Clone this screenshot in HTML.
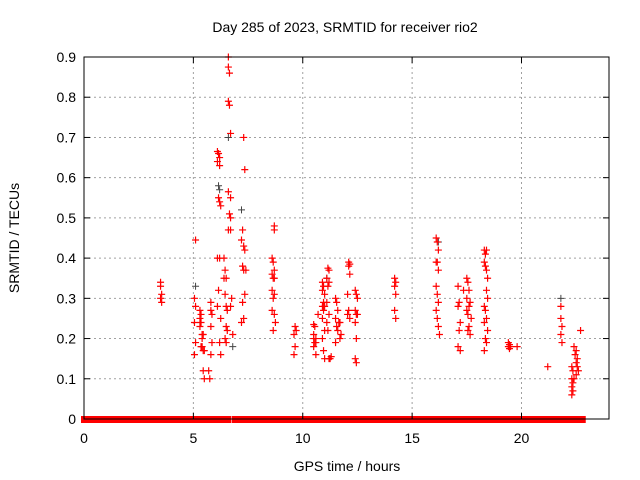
<!DOCTYPE html>
<html><head><meta charset="utf-8"><style>
body{margin:0;background:#fff}
svg{display:block;font-family:"Liberation Sans",sans-serif}
</style></head><body>
<svg id="chart" width="640" height="480">
<text x="345" y="32" text-anchor="middle" font-size="14">Day 285 of 2023, SRMTID for receiver rio2</text>
<text x="347" y="471" text-anchor="middle" font-size="14">GPS time / hours</text>
<text transform="translate(19,238) rotate(-90)" text-anchor="middle" font-size="14">SRMTID / TECUs</text>
<g id="grid"></g><g id="zeros"></g><g id="pts"></g><g id="axes"></g>
</svg>
<script>
const xTicks=[0,5,10,15,20];
const yTicks=[0,0.1,0.2,0.3,0.4,0.5,0.6,0.7,0.8,0.9];
const yTickLabels=["0","0.1","0.2","0.3","0.4","0.5","0.6","0.7","0.8","0.9"];
const zeroIntervals=[[0,4.95],[5.05,5.4],[5.5,6.2],[6.25,6.6],[6.9,8.4],[8.5,10.3],[10.35,11.4],[11.5,12.8],[12.85,14.3],[14.4,16.1],[16.2,17.4],[17.5,18.2],[18.3,19.0],[19.1,20.2],[20.3,21.8],[21.9,22.3],[22.5,22.8]];
const blackPoints=[[5.1,0.33],[6.15,0.58],[6.2,0.57],[6.6,0.70],[7.2,0.52],[6.8,0.18],[21.8,0.30],[16.2,0.44],[11.1,0.35]];
const redPoints=[
[3.5,0.34],[3.5,0.33],[3.55,0.31],[3.5,0.30],[3.55,0.29],
[5.1,0.445],[5.05,0.30],[5.1,0.28],[5.05,0.24],[5.1,0.19],[5.05,0.16],
[5.3,0.27],[5.35,0.26],[5.3,0.25],[5.35,0.24],[5.3,0.23],[5.4,0.21],[5.45,0.21],[5.4,0.20],[5.35,0.18],[5.4,0.18],[5.45,0.17],[5.5,0.17],[5.45,0.12],[5.5,0.10],
[5.8,0.29],[5.8,0.27],[5.85,0.26],[5.8,0.23],[5.85,0.19],[5.8,0.16],[5.7,0.12],[5.75,0.10],
[6.1,0.665],[6.15,0.66],[6.2,0.65],[6.1,0.64],[6.2,0.63],[6.15,0.55],[6.2,0.54],[6.25,0.53],[6.1,0.40],[6.2,0.40],[6.15,0.32],[6.1,0.28],[6.25,0.25],[6.2,0.19],[6.25,0.16],
[6.4,0.40],[6.45,0.37],[6.4,0.35],[6.5,0.35],[6.45,0.31],[6.5,0.28],[6.55,0.27],[6.5,0.23],[6.55,0.22],[6.45,0.20],[6.5,0.19],
[6.6,0.90],[6.6,0.875],[6.65,0.86],[6.6,0.79],[6.65,0.78],[6.7,0.71],[6.6,0.565],[6.7,0.55],[6.65,0.51],[6.7,0.50],[6.6,0.47],[6.7,0.47],[6.75,0.30],[6.7,0.28],[6.8,0.21],
[7.3,0.70],[7.35,0.62],[7.25,0.47],[7.2,0.445],[7.3,0.43],[7.35,0.42],[7.25,0.38],[7.4,0.37],[7.3,0.37],[7.35,0.31],[7.25,0.29],[7.3,0.25],[7.2,0.24],
[8.7,0.48],[8.7,0.47],[8.6,0.40],[8.65,0.39],[8.7,0.37],[8.6,0.36],[8.65,0.35],[8.7,0.35],[8.6,0.32],[8.7,0.31],[8.65,0.30],[8.6,0.27],[8.7,0.26],[8.75,0.24],[8.65,0.22],
[9.65,0.23],[9.7,0.22],[9.6,0.21],[9.65,0.18],[9.6,0.16],
[10.5,0.235],[10.55,0.23],[10.5,0.21],[10.6,0.20],[10.5,0.20],[10.55,0.19],[10.6,0.19],[10.5,0.18],[10.6,0.16],[10.7,0.26],
[10.9,0.34],[10.95,0.33],[10.9,0.32],[11.0,0.31],[10.95,0.29],[11.0,0.28],[10.9,0.28],[10.95,0.27],[10.9,0.25],[11.0,0.22],[10.9,0.20],[10.95,0.17],[11.0,0.15],
[11.15,0.375],[11.2,0.37],[11.1,0.35],[11.2,0.34],[11.15,0.33],[11.1,0.29],[11.2,0.26],[11.1,0.24],[11.15,0.22],[11.2,0.15],[11.25,0.15],[11.3,0.155],
[11.5,0.30],[11.55,0.29],[11.6,0.27],[11.5,0.25],[11.65,0.24],[11.7,0.24],[11.55,0.23],[11.6,0.22],[11.75,0.21],[11.7,0.20],[11.5,0.19],
[12.1,0.39],[12.15,0.385],[12.1,0.38],[12.15,0.36],[12.05,0.31],[12.1,0.27],[12.15,0.25],[12.05,0.26],
[12.4,0.32],[12.45,0.31],[12.5,0.30],[12.4,0.27],[12.45,0.26],[12.5,0.26],[12.4,0.24],[12.45,0.20],[12.4,0.15],[12.45,0.14],
[14.2,0.35],[14.25,0.34],[14.2,0.33],[14.25,0.31],[14.2,0.27],[14.25,0.25],
[16.1,0.45],[16.15,0.44],[16.2,0.42],[16.1,0.39],[16.15,0.39],[16.2,0.37],[16.1,0.33],[16.15,0.31],[16.2,0.29],[16.1,0.27],[16.15,0.25],[16.2,0.23],[16.25,0.21],
[17.1,0.33],[17.15,0.29],[17.1,0.28],[17.2,0.24],[17.15,0.22],[17.1,0.18],[17.2,0.17],[17.35,0.32],
[17.5,0.35],[17.55,0.34],[17.6,0.32],[17.5,0.30],[17.65,0.29],[17.6,0.28],[17.5,0.27],[17.55,0.26],[17.7,0.25],[17.6,0.23],[17.55,0.22],[17.65,0.21],
[18.3,0.42],[18.4,0.42],[18.35,0.41],[18.3,0.39],[18.35,0.38],[18.4,0.37],[18.45,0.35],[18.4,0.32],[18.45,0.30],[18.3,0.28],[18.35,0.27],[18.4,0.25],[18.3,0.24],[18.45,0.22],[18.35,0.20],[18.4,0.19],[18.3,0.17],
[19.4,0.19],[19.45,0.185],[19.4,0.18],[19.5,0.18],[19.45,0.175],[19.8,0.18],
[21.2,0.13],
[21.8,0.28],[21.8,0.25],[21.85,0.23],[21.8,0.21],[21.85,0.19],
[22.3,0.13],[22.35,0.12],[22.3,0.10],[22.35,0.09],[22.3,0.08],[22.35,0.07],[22.3,0.06],[22.4,0.10],[22.4,0.18],[22.5,0.17],[22.45,0.16],[22.55,0.15],[22.5,0.14],[22.55,0.13],[22.6,0.12],[22.5,0.11],[22.7,0.22]
];
const X0=84,X1=609,Y0=419,Y1=57,XMAX=24,YMAX=0.9;
const sx=v=>X0+(X1-X0)*v/XMAX, sy=v=>Y0-(Y0-Y1)*v/YMAX;
const NS='http://www.w3.org/2000/svg';
function mk(tag,parent,attrs){const e=document.createElementNS(NS,tag);for(const k in attrs)e.setAttribute(k,attrs[k]);document.getElementById(parent).appendChild(e);return e;}
yTicks.forEach((t,i)=>{
 if(t>0&&t<YMAX){const g=mk('line','grid',{x1:X0,x2:X1,y1:sy(t),y2:sy(t),stroke:'#a0a0a0','stroke-dasharray':'2,3'});
 
 }
 const l=mk('text','axes',{x:X0-8,y:sy(t)+5,'text-anchor':'end','font-size':'14'});l.textContent=yTickLabels[i];
 
 
 mk('line','axes',{x1:X0,x2:X0+6,y1:sy(t),y2:sy(t),stroke:'#000'});
 mk('line','axes',{x1:X1-6,x2:X1,y1:sy(t),y2:sy(t),stroke:'#000'});
});
xTicks.forEach(t=>{
 if(t>0){const g=mk('line','grid',{x1:sx(t),x2:sx(t),y1:Y0,y2:Y1,stroke:'#a0a0a0','stroke-dasharray':'2,3'});
 
 }
 const l=mk('text','axes',{x:sx(t),y:Y0+24,'text-anchor':'middle','font-size':'14'});l.textContent=String(t);
 
 
 mk('line','axes',{x1:sx(t),x2:sx(t),y1:Y0,y2:Y0-6,stroke:'#000'});
 mk('line','axes',{x1:sx(t),x2:sx(t),y1:Y1,y2:Y1+6,stroke:'#000'});
});
const fr=mk('rect','axes',{x:X0,y:Y1,width:X1-X0,height:Y0-Y1,fill:'none',stroke:'#000'});


zeroIntervals.forEach(iv=>{
 const r=mk('rect','zeros',{x:sx(iv[0])-3,y:Y0-3,width:sx(iv[1])-sx(iv[0])+6,height:7,fill:'#f00'});
 
 
});
function plus(p,col,w,name){
 const x=sx(p[0]),y=sy(p[1]);
 const e=mk('path','pts',{d:`M${x-3.5},${y}H${x+3.5}M${x},${y-3.5}V${y+3.5}`,stroke:col,'stroke-width':w,fill:'none'});
 
 
}
blackPoints.forEach(p=>plus(p,'#444',1,'black-point'));
redPoints.forEach(p=>plus(p,'#f00',1.2,'red-point'));
</script>
</body></html>
